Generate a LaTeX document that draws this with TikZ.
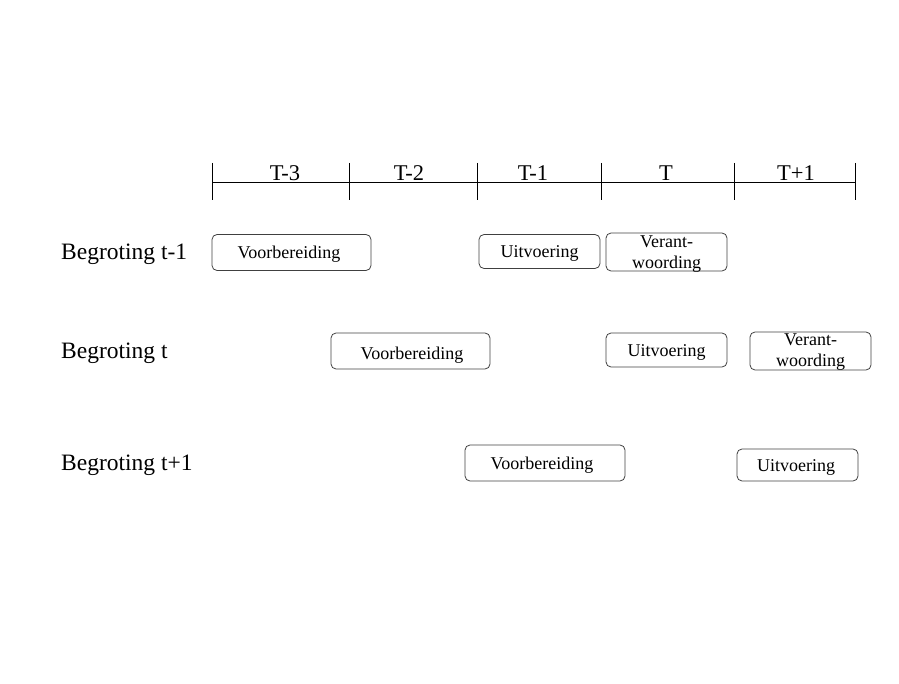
\documentclass[tikz,border=0pt]{standalone}
\usepackage{fontspec}
\setmainfont{Liberation Serif}
\begin{document}
\begin{tikzpicture}[x=1pt,y=-1pt,
  box/.style={draw=black!75, line width=0.8pt, rounded corners=5pt, inner sep=0pt},
  lab/.style={inner sep=0pt, font=\fontsize{18}{18}\selectfont},
  two/.style={align=center, inner sep=0pt, font=\fontsize{18}{21}\selectfont},
  per/.style={inner sep=0pt, font=\fontsize{22.5}{22.5}\selectfont},
  row/.style={anchor=west, inner sep=0pt, font=\fontsize{23.5}{23.5}\selectfont},
  tl/.style={line width=0.8pt}]
\useasboundingbox (0,0) rectangle (899,684);
% timeline
\coordinate (a0) at (212,182);
\coordinate (a5) at (855,182);
\draw[tl] (a0) -- (a5);
\foreach \x in {212,349,477,601,734,855}{
  \draw[tl] (\x,163) -- (\x,200);
}
\node[per] (p1) at (285,173) {T-3};
\node[per] (p2) at (409,173) {T-2};
\node[per] (p3) at (533,173) {T-1};
\node[per] (p4) at (666,173) {T};
\node[per] (p5) at (796,173) {T+1};
% row labels
\node[row] (r1) at (61,254) {Begroting t-1};
\node[row] (r2) at (61,353) {Begroting t};
\node[row] (r3) at (61,465) {Begroting t+1};
% row 1
\node[box, minimum width=159, minimum height=36] (v1) at (291.5,252.5) {};
\node[lab] (v1t) at (289,254) {Voorbereiding};
\node[box, minimum width=121, minimum height=34] (u1) at (539.5,251.5) {};
\node[lab] (u1t) at (539.5,253) {Uitvoering};
\node[box, minimum width=121, minimum height=38] (w1) at (666.5,252) {};
\node[two] (w1t) at (666.5,254) {Verant-\\woording};
% row 2
\node[box, minimum width=159, minimum height=36] (v2) at (410.5,351) {};
\node[lab] (v2t) at (412,355) {Voorbereiding};
\node[box, minimum width=121, minimum height=34] (u2) at (666.5,350) {};
\node[lab] (u2t) at (666.5,352) {Uitvoering};
\node[box, minimum width=121, minimum height=38] (w2) at (810.5,351) {};
\node[two] (w2t) at (810.5,352) {Verant-\\woording};
% row 3
\node[box, minimum width=160, minimum height=36] (v3) at (545,463) {};
\node[lab] (v3t) at (542,465) {Voorbereiding};
\node[box, minimum width=121, minimum height=32] (u3) at (797.5,465) {};
\node[lab] (u3t) at (796,467) {Uitvoering};
\end{tikzpicture}
\end{document}
